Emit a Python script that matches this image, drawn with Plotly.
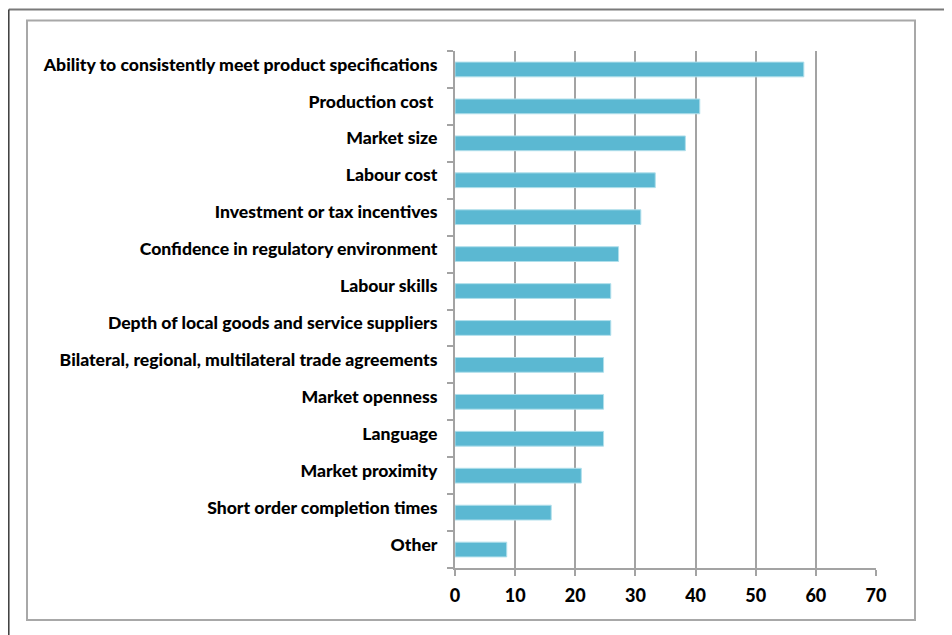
import plotly.graph_objects as go

categories = [
    "Ability to consistently meet product specifications",
    "Production cost ",
    "Market size",
    "Labour cost",
    "Investment or tax incentives",
    "Confidence in regulatory environment",
    "Labour skills",
    "Depth of local goods and service suppliers",
    "Bilateral, regional, multilateral trade agreements",
    "Market openness",
    "Language",
    "Market proximity",
    "Short order completion times",
    "Other",
]
values = [58.0, 40.7, 38.3, 33.3, 30.9, 27.2, 25.9, 25.9, 24.7, 24.7, 24.7, 21.0, 16.0, 8.6]
x_ticks = [0, 10, 20, 30, 40, 50, 60, 70]

OFF = 8  # default page body margin
W, H = 952 - OFF, 635 - OFF
L, R, T, B = 455 - OFF, 876 - OFF, 51 - OFF, 568 - OFF

fig = go.Figure(go.Bar(
    x=values, y=categories, orientation="h",
    marker=dict(color="#5bb8d2", line=dict(color="#b0dfeb", width=1)),
    width=0.4,
))

def px(x):
    return (x - OFF - L) / (R - L)

def py(y):
    return (B - (y - OFF)) / (B - T)

shapes = [
    dict(type="line", xref="paper", yref="paper", x0=px(8.8), x1=px(960), y0=py(9.5), y1=py(9.5),
         line=dict(color="#7a7a7a", width=2)),
    dict(type="line", xref="paper", yref="paper", x0=px(8.8), x1=px(8.8), y0=py(9.5), y1=py(640),
         line=dict(color="#3a3a3a", width=1.5)),
    dict(type="rect", xref="paper", yref="paper", x0=px(27), x1=px(915), y0=py(20.5), y1=py(620),
         line=dict(color="#a8a8a8", width=2)),
]

fig.update_layout(
    width=W, height=H,
    margin=dict(l=L, r=W - R, t=T, b=H - B, autoexpand=False),
    paper_bgcolor="white", plot_bgcolor="white",
    showlegend=False,
    font=dict(family="Lato, Carlito, Calibri, sans-serif", size=17.6, color="black"),
    shapes=shapes,
    xaxis=dict(
        range=[0, 70], tickvals=x_ticks, ticktext=[str(v) for v in x_ticks],
        showgrid=True, gridcolor="#a3a3a3", gridwidth=2,
        showline=True, linecolor="#a3a3a3", linewidth=2,
        ticks="outside", ticklen=6, tickcolor="#a3a3a3", tickwidth=2,
        tickfont=dict(family="Lato, sans-serif", size=18, color="black", weight=900),
        ticklabelstandoff=4,
        zeroline=False, fixedrange=True,
    ),
    yaxis=dict(
        categoryorder="array", categoryarray=categories[::-1],
        showgrid=False, showline=True, linecolor="#a3a3a3", linewidth=2,
        ticks="outside", ticklen=6, tickcolor="#a3a3a3", tickwidth=2,
        tickson="boundaries",
        tickfont=dict(family="Lato, sans-serif", size=17.6, color="black", weight=900),
        ticklabelstandoff=12,
        ticklabelshift=-5,
        fixedrange=True,
    ),
    bargap=0.6,
)

fig.write_html("out.html")
